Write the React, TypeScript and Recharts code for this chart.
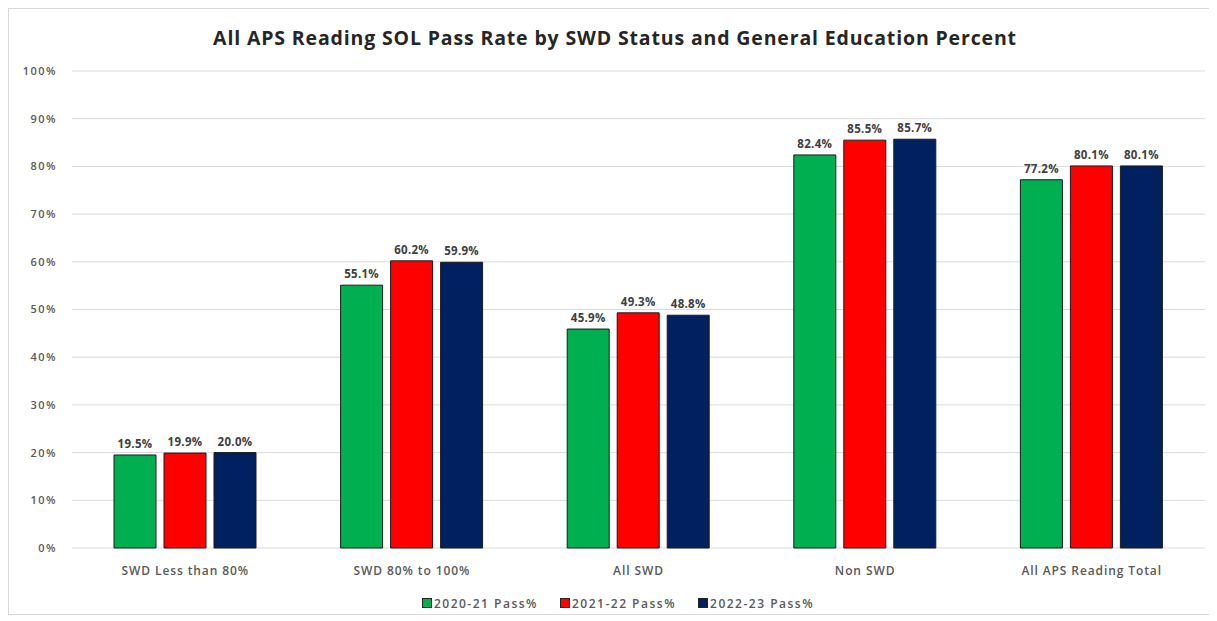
import { Bar, BarChart, CartesianGrid, LabelList, Legend, XAxis, YAxis } from "recharts";

const categories = [
  "SWD Less than 80%",
  "SWD 80% to 100%",
  "All SWD",
  "Non SWD",
  "All APS Reading Total",
];
const pass2021 = [19.5, 55.1, 45.9, 82.4, 77.2];
const pass2122 = [19.9, 60.2, 49.3, 85.5, 80.1];
const pass2223 = [20.0, 59.9, 48.8, 85.7, 80.1];
const yTicks = [0, 10, 20, 30, 40, 50, 60, 70, 80, 90, 100];

const series = [
  { key: "y2021", name: "2020-21 Pass%", color: "#00B050" },
  { key: "y2122", name: "2021-22 Pass%", color: "#FF0000" },
  { key: "y2223", name: "2022-23 Pass%", color: "#002060" },
];

const data = categories.map((cat, i) => ({
  cat,
  y2021: pass2021[i],
  y2122: pass2122[i],
  y2223: pass2223[i],
}));

const FONT = "'Open Sans', 'Noto Sans', sans-serif";
const TEXT = "#404040";

function LegendContent() {
  return (
    <div
      style={{
        height: 20,
        display: "flex",
        justifyContent: "center",
        alignItems: "center",
        gap: 22,
        fontFamily: FONT,
        fontSize: 12,
        fontWeight: 600,
        letterSpacing: 1.5,
        color: "#595959",
      }}
    >
      {series.map((s) => (
        <span key={s.key} style={{ display: "flex", alignItems: "center", gap: 2 }}>
          <span style={{ width: 8, height: 8, background: s.color, border: "1px solid #222" }} />
          {s.name}
        </span>
      ))}
    </div>
  );
}

export default function App() {
  return (
    <div
      style={{
        position: "relative",
        width: 1205,
        height: 607,
        border: "1px solid #d9d9d9",
        boxSizing: "border-box",
        background: "#fff",
      }}
    >
      <div
        style={{
          position: "absolute",
          top: 15,
          left: 0,
          width: 1212,
          textAlign: "center",
          fontFamily: FONT,
          fontWeight: 700,
          fontSize: 19.5,
          letterSpacing: 0.85,
          color: "#262626",
        }}
      >
        All APS Reading SOL Pass Rate by SWD Status and General Education Percent
      </div>
      <BarChart
        width={1205}
        height={607}
        data={data}
        margin={{ top: 63, right: 8, left: 0, bottom: 7 }}
        barSize={42}
        barGap={8}
        style={{ position: "absolute", top: -1, left: -1 }}
      >
        <CartesianGrid vertical={false} stroke="#d9d9d9" />
        <XAxis
          dataKey="cat"
          height={40}
          axisLine={false}
          tickLine={false}
          tickSize={0}
          tickMargin={18}
          interval={0}
          tick={{ fontSize: 12, fontFamily: FONT, fontWeight: 600, fill: "#595959", letterSpacing: 0.9 }}
        />
        <YAxis
          width={64}
          domain={[0, 100]}
          ticks={yTicks}
          axisLine={false}
          tickLine={false}
          tickSize={0}
          tickMargin={15}
          tickFormatter={(v: number) => `${v}%`}
          tick={{ fontSize: 11, fontFamily: FONT, fontWeight: 600, fill: "#595959", letterSpacing: 1.5 }}
        />
        <Legend
          verticalAlign="bottom"
          content={<LegendContent />}
          wrapperStyle={{ top: 585, bottom: "auto", left: 360, width: 500, height: 20 }}
        />
        {series.map((s) => (
          <Bar
            key={s.key}
            dataKey={s.key}
            name={s.name}
            fill={s.color}
            stroke="#1a1a1a"
            strokeWidth={1}
            isAnimationActive={false}
          >
            <LabelList
              dataKey={s.key}
              position="top"
              offset={7}
              formatter={(v: number) => `${v.toFixed(1)}%`}
              style={{ fontSize: 11.5, fontFamily: FONT, fontWeight: 700, fill: TEXT, letterSpacing: 0.3 }}
            />
          </Bar>
        ))}
      </BarChart>
    </div>
  );
}
